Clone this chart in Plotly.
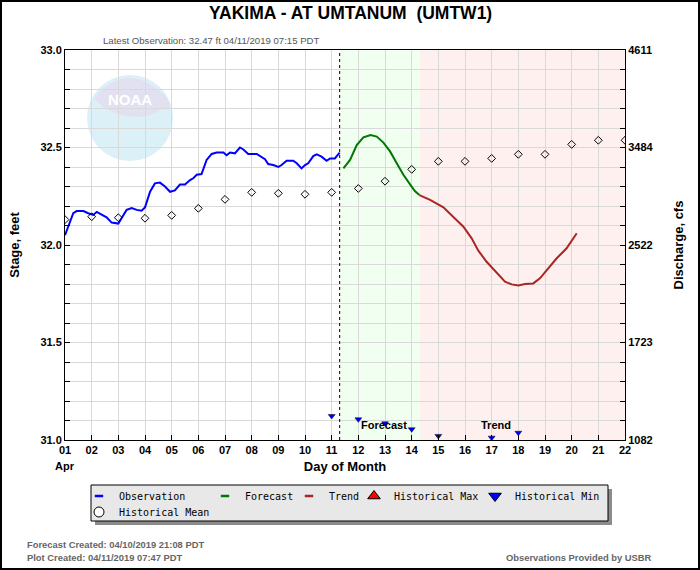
import plotly.graph_objects as go

# observed stage (day of month, feet)
obs_day = [1.0, 1.31, 1.44, 1.69, 1.87, 2.06, 2.19, 2.37, 2.56, 2.75, 3.0, 3.12, 3.31, 3.5,
           3.69, 3.87, 4.0, 4.19, 4.37, 4.56, 4.75, 4.94, 5.12, 5.31, 5.5, 5.69, 5.81, 5.94,
           6.12, 6.31, 6.5, 6.69, 6.94, 7.06, 7.19, 7.37, 7.56, 7.69, 7.87, 8.19, 8.31, 8.5,
           8.62, 8.81, 9.0, 9.12, 9.31, 9.56, 9.69, 9.87, 10.0, 10.12, 10.31, 10.44, 10.62,
           10.81, 10.94, 11.12, 11.3]
obs_stage = [32.05, 32.163, 32.174, 32.174, 32.163, 32.154, 32.17, 32.157, 32.142, 32.115,
             32.11, 32.137, 32.18, 32.19, 32.18, 32.176, 32.193, 32.273, 32.316, 32.32, 32.30,
             32.273, 32.28, 32.31, 32.31, 32.333, 32.342, 32.36, 32.364, 32.436, 32.467,
             32.474, 32.474, 32.46, 32.474, 32.47, 32.50, 32.49, 32.467, 32.467, 32.456,
             32.44, 32.415, 32.41, 32.40, 32.41, 32.432, 32.432, 32.419, 32.393, 32.41,
             32.419, 32.456, 32.465, 32.453, 32.432, 32.444, 32.444, 32.474]

# forecast
fcst_day = [11.44, 11.69, 11.94, 12.19, 12.46, 12.69, 12.94, 13.19, 13.44, 13.69, 13.94,
            14.12, 14.29]
fcst_stage = [32.393, 32.436, 32.513, 32.552, 32.564, 32.556, 32.525, 32.48, 32.419, 32.36,
              32.311, 32.277, 32.256]

# trend
trend_day = [14.29, 14.69, 15.19, 15.56, 15.94, 16.25, 16.5, 16.81, 17.19, 17.5, 17.75, 18.0,
             18.25, 18.56, 18.81, 19.12, 19.44, 19.81, 20.19]
trend_stage = [32.256, 32.231, 32.193, 32.145, 32.094, 32.034, 31.971, 31.914, 31.855, 31.812,
               31.798, 31.792, 31.80, 31.803, 31.829, 31.88, 31.932, 31.983, 32.06]

# historical mean / min
mean_day = list(range(1, 23))
mean_stage = [32.13, 32.145, 32.14, 32.137, 32.152, 32.188, 32.234, 32.27, 32.265, 32.26,
              32.27, 32.29, 32.327, 32.388, 32.429, 32.429, 32.444, 32.465, 32.465, 32.516,
              32.537, 32.537]
min_day = [11, 12, 13, 14, 15, 17, 18]
min_stage = [31.123, 31.106, 31.086, 31.055, 31.021, 31.012, 31.037]
max_day = []
max_stage = []

# axes
day_ticks = list(range(1, 23))
day_labels = ['%02d' % d for d in day_ticks]
month_label = 'Apr'
stage_ticks = [31.0, 31.5, 32.0, 32.5, 33.0]
flow_labels = ['1082', '1723', '2522', '3484', '4611']

latest_obs = 11.3
forecast_end = 14.3

NARROW = 'Liberation Sans Narrow, Arial Narrow, Liberation Sans, Arial'
SANS = 'Liberation Sans, Arial'
MONO = 'DejaVu Sans Mono, monospace'
GRID = '#d9d9d9'

# plot area is 65..625 x 50..440 px
def px_x(p):
    return (p - 65) / 560.0

def px_y(p):
    return (440 - p) / 390.0


fig = go.Figure()

fig.add_trace(go.Scatter(x=obs_day, y=obs_stage, mode='lines', line=dict(color='#0000ff', width=2),
                         showlegend=False, hoverinfo='skip'))
fig.add_trace(go.Scatter(x=fcst_day, y=fcst_stage, mode='lines', line=dict(color='#007700', width=2),
                         showlegend=False))
fig.add_trace(go.Scatter(x=trend_day, y=trend_stage, mode='lines', line=dict(color='#aa2525', width=2),
                         showlegend=False))
fig.add_trace(go.Scatter(x=mean_day, y=mean_stage, mode='markers',
                         marker=dict(symbol='diamond-open', size=6, color='black', line=dict(width=1)),
                         showlegend=False))
# min/max go on the right (discharge) axis, same stage range, so that axis gets drawn
fig.add_trace(go.Scatter(x=min_day, y=min_stage, mode='markers', yaxis='y2',
                         marker=dict(symbol='triangle-down', size=6, color='#0000ff',
                                     line=dict(color='black', width=0.5)),
                         showlegend=False))
fig.add_trace(go.Scatter(x=max_day, y=max_stage, mode='markers', yaxis='y2',
                         marker=dict(symbol='triangle-up', size=6, color='red'),
                         showlegend=False))

# legend entries, one small legend each so they sit where the original has them
legend_items = [
    ('Observation', dict(symbol='line-ew', size=6, line=dict(color='#0000ff', width=2.5)), 119, 496),
    ('Forecast', dict(symbol='line-ew', size=6, line=dict(color='#007700', width=2.5)), 245, 496),
    ('Trend', dict(symbol='line-ew', size=6, line=dict(color='#aa2525', width=2.5)), 329, 496),
    ('Historical Max', dict(symbol='triangle-up', size=11, color='red', line=dict(color='black', width=1)), 394, 496),
    ('Historical Min', dict(symbol='triangle-down', size=11, color='#0000ff', line=dict(color='black', width=1)), 515, 496),
    ('Historical Mean', dict(symbol='circle', size=10, color='white', line=dict(color='black', width=1)), 119, 512),
]
for i, (name, mk, tx, ty) in enumerate(legend_items):
    key = 'legend' if i == 0 else 'legend%d' % (i + 1)
    fig.add_trace(go.Scatter(x=[None], y=[None], mode='markers', marker=mk, name=name, legend=key))
    fig.update_layout(**{key: dict(x=px_x(tx - 40), y=px_y(ty), xanchor='left', yanchor='middle',
                                   bgcolor='rgba(0,0,0,0)', borderwidth=0,
                                   font=dict(family=MONO, size=10, color='black'))})

shapes = [
    # forecast and trend periods
    dict(type='rect', xref='x', yref='y', x0=latest_obs, x1=forecast_end, y0=31, y1=33,
         fillcolor='#f0fff0', line=dict(width=0), layer='below'),
    dict(type='rect', xref='x', yref='y', x0=forecast_end, x1=22, y0=31, y1=33,
         fillcolor='#fff0f0', line=dict(width=0), layer='below'),
    dict(type='line', xref='x', yref='y', x0=latest_obs, x1=latest_obs, y0=31, y1=33,
         line=dict(color='black', width=1, dash='dot')),
    # noaa watermark
    dict(type='circle', xref='paper', yref='paper', x0=px_x(87), x1=px_x(173), y0=px_y(161), y1=px_y(75),
         fillcolor='#dcf0f8', line=dict(width=0), layer='below'),
    dict(type='path', xref='paper', yref='paper', layer='below', fillcolor='#e1e1f1', line=dict(width=0),
         path='M %f,%f Q %f,%f %f,%f Q %f,%f %f,%f L %f,%f Q %f,%f %f,%f Q %f,%f %f,%f Z' % (
             px_x(94), px_y(98), px_x(128), px_y(58), px_x(167), px_y(98),
             px_x(170), px_y(104), px_x(170), px_y(108),
             px_x(160), px_y(110), px_x(142), px_y(122), px_x(115), px_y(113),
             px_x(102), px_y(108), px_x(94), px_y(98))),
    # legend box with shadow
    dict(type='rect', xref='paper', yref='paper', x0=px_x(95), x1=px_x(612), y0=px_y(525), y1=px_y(489),
         fillcolor='#8c8c8c', line=dict(width=0)),
    dict(type='rect', xref='paper', yref='paper', x0=px_x(91), x1=px_x(608), y0=px_y(521), y1=px_y(485),
         fillcolor='#e8e8e8', line=dict(color='black', width=1)),
    # frame round the picture
    dict(type='rect', xref='paper', yref='paper', x0=px_x(1), x1=px_x(699), y0=px_y(569), y1=px_y(1),
         line=dict(color='black', width=2)),
]

annotations = [
    dict(text='YAKIMA - AT UMTANUM \u00a0(UMTW1)', x=px_x(350), y=px_y(13), xanchor='center', yanchor='middle',
         font=dict(family=NARROW, size=17.5, color='black', weight='bold')),
    dict(text='Latest Observation: 32.47 ft 04/11/2019 07:15 PDT', x=px_x(101), y=px_y(40),
         xanchor='left', yanchor='middle', font=dict(family=NARROW, size=9.6, color='#555555')),
    dict(text='Forecast', x=12.95, y=31.077, xref='x', yref='y', xanchor='center', yanchor='middle',
         font=dict(family=SANS, size=11, color='black', weight='bold')),
    dict(text='Trend', x=17.17, y=31.077, xref='x', yref='y', xanchor='center', yanchor='middle',
         font=dict(family=SANS, size=11, color='black', weight='bold')),
    dict(text=month_label, x=day_ticks[0], xref='x', y=px_y(466), xanchor='center', yanchor='middle',
         font=dict(family=SANS, size=11, color='black', weight='bold')),
    dict(text='Forecast Created: 04/10/2019 21:08 PDT', x=px_x(25), y=px_y(544), xanchor='left',
         yanchor='middle', font=dict(family=NARROW, size=9.4, color='#666666', weight='bold')),
    dict(text='Plot Created: 04/11/2019 07:47 PDT', x=px_x(25), y=px_y(557), xanchor='left',
         yanchor='middle', font=dict(family=NARROW, size=9.4, color='#666666', weight='bold')),
    dict(text='Observations Provided by USBR', x=px_x(654), y=px_y(557), xanchor='right',
         yanchor='middle', font=dict(family=NARROW, size=9.4, color='#666666', weight='bold')),
    # watermark text
    dict(text='NOAA', x=px_x(130), y=px_y(99), xanchor='center', yanchor='middle',
         font=dict(family=NARROW, size=15, color='white', weight='bold')),
]
for a in annotations:
    a.setdefault('xref', 'paper')
    a.setdefault('yref', 'paper')
    a['showarrow'] = False

tickfont = dict(family=SANS, size=11, color='black', weight='bold')

fig.update_layout(
    width=700, height=570,
    margin=dict(l=65, r=75, t=50, b=130),
    paper_bgcolor='white', plot_bgcolor='white',
    shapes=shapes, annotations=annotations,
    xaxis=dict(range=[1, 22], tickvals=day_ticks, ticktext=day_labels, ticks='inside', ticklen=5,
               tickcolor='black', showgrid=True, gridcolor=GRID, gridwidth=1, zeroline=False,
               showline=True, linecolor='black', linewidth=1, mirror=True, tickfont=tickfont,
               title=dict(text='Day of Month', standoff=6,
                          font=dict(family=SANS, size=13, color='black', weight='bold'))),
    yaxis=dict(range=[31, 33], tickvals=stage_ticks, tickformat='.1f', ticks='inside', ticklen=5,
               tickcolor='black', showgrid=True, gridcolor=GRID, zeroline=False,
               showline=True, linecolor='black', linewidth=1, mirror=True, tickfont=tickfont,
               minor=dict(dtick=0.1, ticks='inside', ticklen=5, tickcolor='black',
                          showgrid=True, gridcolor=GRID),
               title=dict(text='Stage, feet', standoff=17,
                          font=dict(family=SANS, size=13, color='black', weight='bold'))),
    yaxis2=dict(range=[31, 33], overlaying='y', side='right', tickvals=stage_ticks, ticktext=flow_labels,
                ticks='inside', ticklen=5, tickcolor='black', showgrid=False, zeroline=False,
                showline=True, linecolor='black', linewidth=1, tickfont=tickfont,
                minor=dict(dtick=0.1, ticks='inside', ticklen=5, tickcolor='black', showgrid=False),
                title=dict(text='Discharge, cfs', standoff=21,
                           font=dict(family=SANS, size=13, color='black', weight='bold'))),
)

# the page's default body margin would shift the picture by 8px
fig.write_html('out.html', config={'displayModeBar': False},
               post_script="document.body.style.margin='0';")
